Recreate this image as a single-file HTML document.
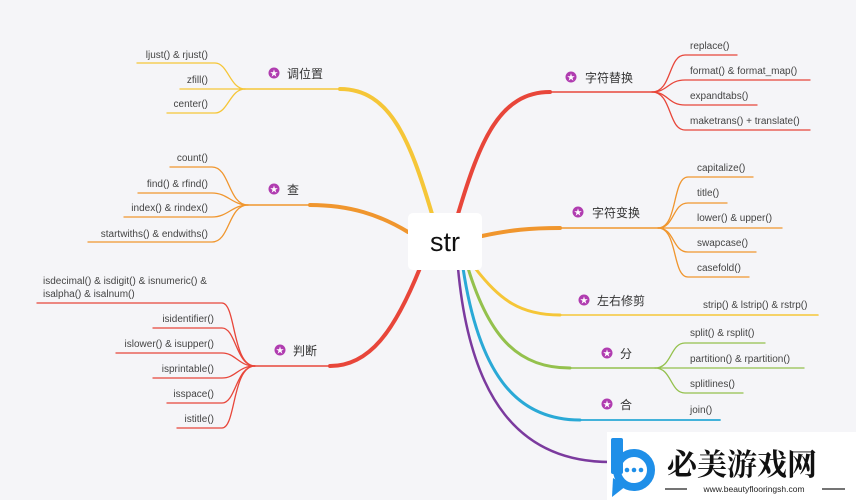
<!DOCTYPE html>
<html><head><meta charset="utf-8"><style>
html,body{margin:0;padding:0;background:#f5f5f8;}
svg{display:block;}
text{font-family:"Liberation Sans","Noto Sans CJK SC",sans-serif;fill:#333;}
.l{font-size:10px;fill:#444;}
.c{font-size:12px;fill:#333;}
</style></head><body>
<svg width="856" height="500" viewBox="0 0 856 500" xmlns="http://www.w3.org/2000/svg">
<rect width="856" height="500" fill="#f5f5f8"/>
<g fill="none" stroke-linecap="round">
<!-- main branches: thick curves -->
<path d="M432,214 C410,140 390,89 340,89" stroke="#f5c638" stroke-width="4"/>
<path d="M340,89 L245,89" stroke="#f5c638" stroke-width="1.6"/>
<path d="M408,232 C380,215 350,205 310,205" stroke="#f0962e" stroke-width="4"/>
<path d="M310,205 L248,205" stroke="#f0962e" stroke-width="1.6"/>
<path d="M420,268 C395,330 370,366 330,366" stroke="#e8463a" stroke-width="4"/>
<path d="M330,366 L255,366" stroke="#e8463a" stroke-width="1.6"/>
<path d="M458,214 C480,140 500,92 550,92" stroke="#e8463a" stroke-width="4"/>
<path d="M550,92 L652,92" stroke="#e8463a" stroke-width="1.6"/>
<path d="M482,236 C510,230 530,228 560,228" stroke="#f0962e" stroke-width="4"/>
<path d="M560,228 L658,228" stroke="#f0962e" stroke-width="1.6"/>
<path d="M475,268 C500,300 520,315 560,315" stroke="#f5c638" stroke-width="3"/>
<path d="M560,315 L818,315" stroke="#f5c638" stroke-width="1.6"/>
<path d="M468,268 C490,340 520,368 570,368" stroke="#94c14d" stroke-width="3"/>
<path d="M570,368 L655,368" stroke="#94c14d" stroke-width="1.6"/>
<path d="M463,268 C480,380 520,420 580,420" stroke="#2aa9d6" stroke-width="3"/>
<path d="M580,420 L720,420" stroke="#2aa9d6" stroke-width="1.8"/>
<path d="M458,268 C470,400 520,462 610,462" stroke="#7b3a9e" stroke-width="2.5"/>
<g stroke="#f5c638" stroke-width="1.3">
<path d="M245,89 C230,89 228,63 215,63 L137,63"/>
<path d="M245,89 L180,89"/>
<path d="M245,89 C230,89 228,113 215,113 L167,113"/>
</g>
<g stroke="#f0962e" stroke-width="1.3">
<path d="M248,205 C228,205 230,167 212,167 L170,167"/>
<path d="M248,205 C232,205 228,193 212,193 L138,193"/>
<path d="M248,205 C232,205 228,217 212,217 L124,217"/>
<path d="M248,205 C228,205 230,242 212,242 L88,242"/>
</g>
<g stroke="#e8463a" stroke-width="1.3">
<path d="M255,366 C232,366 236,303 222,303 L37,303"/>
<path d="M255,366 C236,366 236,328 222,328 L153,328"/>
<path d="M255,366 C238,366 236,353 222,353 L116,353"/>
<path d="M255,366 C238,366 236,378 222,378 L153,378"/>
<path d="M255,366 C236,366 236,403 222,403 L167,403"/>
<path d="M255,366 C232,366 236,428 222,428 L177,428"/>
</g>
<g stroke="#e8463a" stroke-width="1.3">
<path d="M652,92 C672,92 668,55 685,55 L737,55"/>
<path d="M652,92 C668,92 668,80 685,80 L810,80"/>
<path d="M652,92 C668,92 668,105 685,105 L757,105"/>
<path d="M652,92 C672,92 668,130 685,130 L810,130"/>
</g>
<g stroke="#f0962e" stroke-width="1.3">
<path d="M658,228 C678,228 672,177 688,177 L753,177"/>
<path d="M658,228 C675,228 672,203 688,203 L727,203"/>
<path d="M658,228 L782,228"/>
<path d="M658,228 C675,228 672,252 688,252 L756,252"/>
<path d="M658,228 C678,228 672,277 688,277 L749,277"/>
</g>
<g stroke="#94c14d" stroke-width="1.3">
<path d="M655,368 C672,368 670,343 685,343 L765,343"/>
<path d="M655,368 L804,368"/>
<path d="M655,368 C672,368 670,393 685,393 L743,393"/>
</g>
</g>
<rect x="408" y="213" width="74" height="57" rx="5" fill="#fff"/>
<text x="445" y="251" text-anchor="middle" style="font-size:27px;fill:#111">str</text>
<g fill="#b03cb0">
<circle cx="274" cy="73" r="5.5"/><circle cx="274" cy="189" r="5.5"/><circle cx="280" cy="350" r="5.5"/>
<circle cx="571" cy="77" r="5.5"/><circle cx="578" cy="212" r="5.5"/><circle cx="584" cy="300" r="5.5"/>
<circle cx="607" cy="353" r="5.5"/><circle cx="607" cy="404" r="5.5"/>
</g>
<g text-anchor="middle">
<text x="274" y="76" style="fill:#fff;font-size:8px">★</text><text x="274" y="192" style="fill:#fff;font-size:8px">★</text><text x="280" y="353" style="fill:#fff;font-size:8px">★</text>
<text x="571" y="80" style="fill:#fff;font-size:8px">★</text><text x="578" y="215" style="fill:#fff;font-size:8px">★</text><text x="584" y="303" style="fill:#fff;font-size:8px">★</text>
<text x="607" y="356" style="fill:#fff;font-size:8px">★</text><text x="607" y="407" style="fill:#fff;font-size:8px">★</text>
</g>
<text class="c" x="287" y="78">调位置</text>
<text class="c" x="287" y="194">查</text>
<text class="c" x="293" y="355">判断</text>
<text class="c" x="585" y="82">字符替换</text>
<text class="c" x="592" y="217">字符变换</text>
<text class="c" x="597" y="305">左右修剪</text>
<text class="c" x="620" y="358">分</text>
<text class="c" x="620" y="409">合</text>
<g text-anchor="end">
<text class="l" x="208" y="58">ljust() &amp; rjust()</text>
<text class="l" x="208" y="83">zfill()</text>
<text class="l" x="208" y="107">center()</text>
<text class="l" x="208" y="161">count()</text>
<text class="l" x="208" y="187">find() &amp; rfind()</text>
<text class="l" x="208" y="211">index() &amp; rindex()</text>
<text class="l" x="208" y="237">startwiths() &amp; endwiths()</text>
<text class="l" x="214" y="322">isidentifier()</text>
<text class="l" x="214" y="347">islower() &amp; isupper()</text>
<text class="l" x="214" y="372">isprintable()</text>
<text class="l" x="214" y="397">isspace()</text>
<text class="l" x="214" y="422">istitle()</text>
</g>
<text class="l" x="43" y="284">isdecimal() &amp; isdigit() &amp; isnumeric() &amp;</text>
<text class="l" x="43" y="297">isalpha() &amp; isalnum()</text>
<text class="l" x="690" y="49">replace()</text>
<text class="l" x="690" y="74">format() &amp; format_map()</text>
<text class="l" x="690" y="99">expandtabs()</text>
<text class="l" x="690" y="124">maketrans() + translate()</text>
<text class="l" x="697" y="171">capitalize()</text>
<text class="l" x="697" y="196">title()</text>
<text class="l" x="697" y="221">lower() &amp; upper()</text>
<text class="l" x="697" y="246">swapcase()</text>
<text class="l" x="697" y="271">casefold()</text>
<text class="l" x="703" y="308">strip() &amp; lstrip() &amp; rstrp()</text>
<text class="l" x="690" y="336">split() &amp; rsplit()</text>
<text class="l" x="690" y="362">partition() &amp; rpartition()</text>
<text class="l" x="690" y="387">splitlines()</text>
<text class="l" x="690" y="413">join()</text>
<!-- watermark -->
<rect x="607" y="432" width="249" height="68" fill="#fff"/>
<rect x="611" y="438" width="12" height="36" rx="2" fill="#1f8fe8"/>
<circle cx="634" cy="470" r="17" fill="none" stroke="#1f8fe8" stroke-width="8"/>
<path d="M613,478 L612,497 L626,486 Z" fill="#1f8fe8"/>
<circle cx="627" cy="470" r="2.3" fill="#1f8fe8"/><circle cx="634" cy="470" r="2.3" fill="#1f8fe8"/><circle cx="641" cy="470" r="2.3" fill="#1f8fe8"/>
<text x="667" y="475" style="font-size:30px;font-weight:bold;fill:#111;font-family:'Noto Serif CJK SC','Noto Sans CJK SC',serif">必美游戏网</text>
<line x1="665" y1="489" x2="687" y2="489" stroke="#222" stroke-width="1.3"/>
<line x1="822" y1="489" x2="845" y2="489" stroke="#222" stroke-width="1.3"/>
<text x="754" y="492" text-anchor="middle" style="font-size:8.5px;fill:#222">www.beautyflooringsh.com</text>
</svg>
</body></html>
